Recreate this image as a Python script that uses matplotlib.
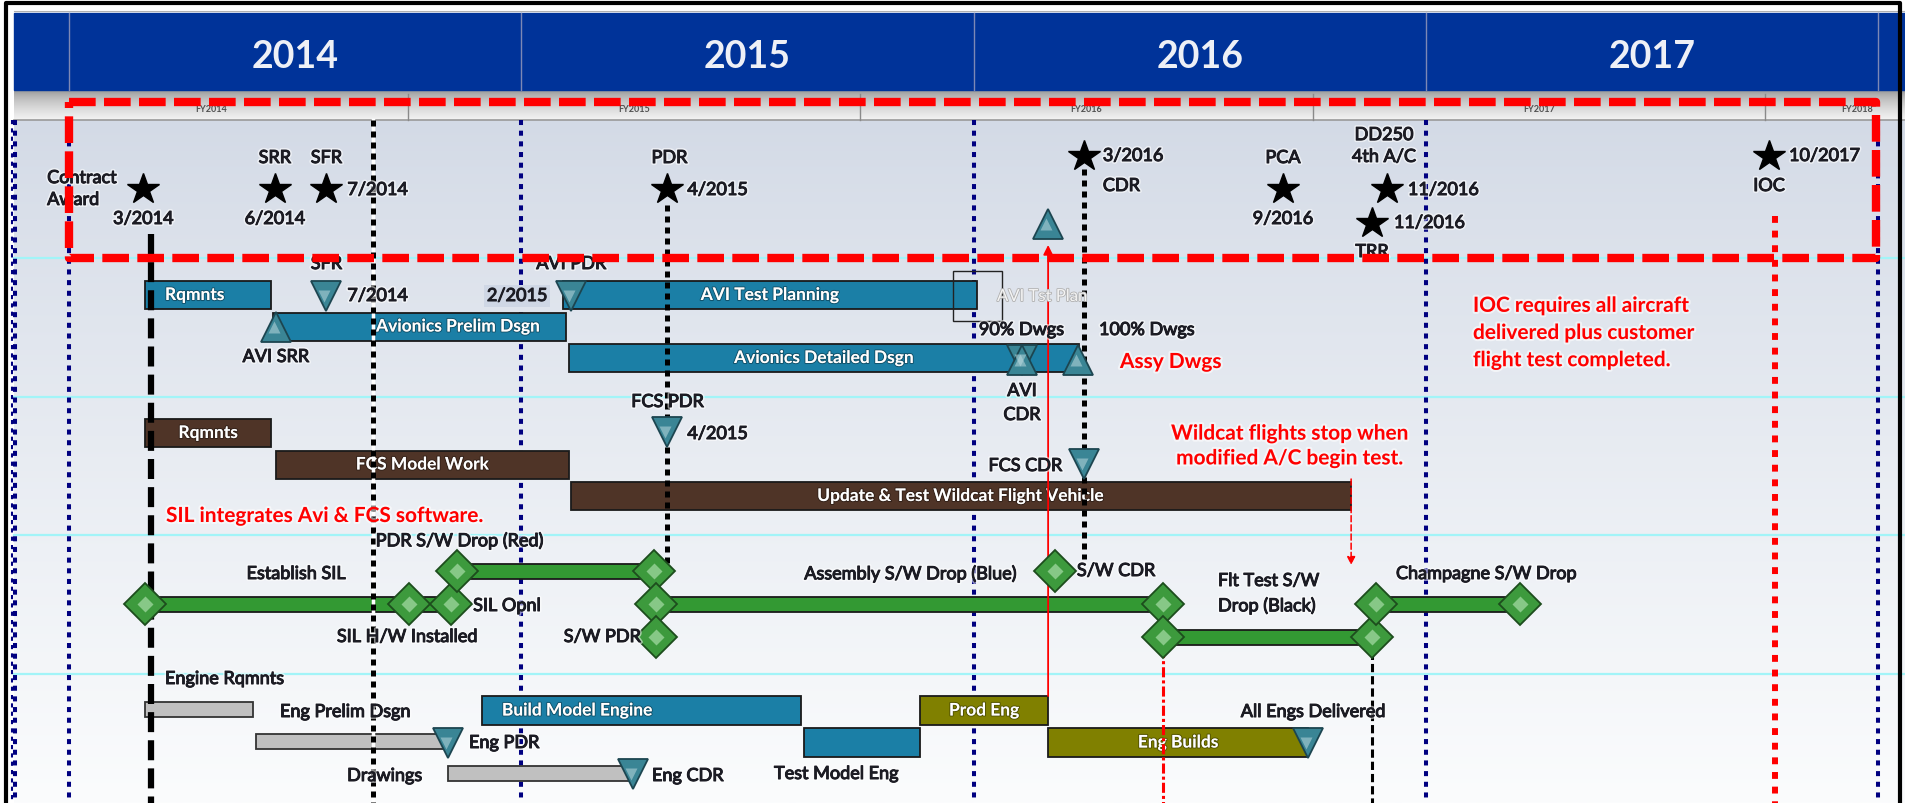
import matplotlib
matplotlib.use("Agg")
import matplotlib.pyplot as plt
import numpy as np
from matplotlib import patheffects as pe
from matplotlib.patches import Rectangle
from matplotlib.colors import to_rgb

plt.rcParams['font.family'] = ['Lato', 'DejaVu Sans']

# ---------------- data (dates as decimal years) ----------------
header_years = [2014, 2015, 2016, 2017]
fy_labels = ["FY2014", "FY2015", "FY2016", "FY2017", "FY2018"]
fy_starts = [2013.75, 2014.75, 2015.75, 2016.75, 2017.75]

star_names = ["Contract\nAward", "SRR", "SFR", "PDR", "CDR", "PCA", "DD250\n4th A/C", "TRR", "IOC"]
star_dates = [2014.164, 2014.455, 2014.569, 2015.323, 2016.244, 2016.684, 2016.914, 2016.881, 2017.759]
star_texts = ["3/2014", "6/2014", "7/2014", "4/2015", "3/2016", "9/2016", "11/2016", "11/2016", "10/2017"]

avi_tasks = ["Rqmnts", "Avionics Prelim Dsgn", "AVI Test Planning", "Avionics Detailed Dsgn"]
avi_start = [2014.168, 2014.451, 2015.092, 2015.106]
avi_end = [2014.447, 2015.099, 2016.008, 2016.233]

fcs_tasks = ["Rqmnts", "FCS Model Work", "Update & Test Wildcat Flight Vehicle"]
fcs_start = [2014.168, 2014.457, 2015.110]
fcs_end = [2014.447, 2015.106, 2016.835]

sw_tasks = ["Establish SIL", "PDR S/W Drop (Red)", "Assembly S/W Drop (Blue)",
            "Flt Test S/W Drop (Black)", "Champagne S/W Drop"]
sw_start = [2014.168, 2014.858, 2015.299, 2016.419, 2016.890]
sw_end = [2014.845, 2015.294, 2016.420, 2016.881, 2017.208]
sw_points = ["SIL H/W Installed", "S/W PDR", "S/W CDR"]
sw_point_dates = [2014.752, 2015.299, 2016.180]

eng_tasks = ["Engine Rqmnts", "Eng Prelim Dsgn", "Drawings", "Build Model Engine",
             "Test Model Eng", "Prod Eng", "Eng Builds"]
eng_start = [2014.168, 2014.414, 2014.838, 2014.913, 2015.625, 2015.882, 2016.165]
eng_end = [2014.407, 2014.838, 2015.247, 2015.619, 2015.882, 2016.165, 2016.740]

tri_names = ["SFR", "AVI SRR", "AVI PDR", "AVI CDR", "AVI CDR", "100% Dwgs", "FCS PDR",
             "FCS CDR", "1st Eng", "Eng PDR", "Eng CDR", "All Engs Delivered"]
tri_dates = [2014.569, 2014.457, 2015.110, 2016.107, 2016.107, 2016.231, 2015.323,
             2016.244, 2016.165, 2014.838, 2015.247, 2016.740]
tri_dirs = ["v", "^", "v", "v", "^", "^", "v", "v", "^", "v", "v", "v"]

ref_contract = 2014.181
ref_today = 2014.673
ref_pdr = 2015.323
ref_cdr = 2016.244
ref_first_eng = 2016.165
ref_wildcat_stop = 2016.835
ref_flt_test = 2016.419
ref_trr = 2016.881
ref_ioc = 2017.772

# ---------------- layout (pixel rows, colours) ----------------
PX0, PPY = 69.0, 452.25
W, H = 1905, 804


def X(px):
    return 2014 + (px - PX0) / PPY


def DX(dpx):
    return dpx / PPY


TEAL, BROWN, GREEN, OLIVE, GRAY = "#1b7fa6", "#4f3427", "#339933", "#808000", "#c0c0c0"
NAVY, RED = "#000080", "#ff0000"
TXT = "#1c1c24"

fig = plt.figure(figsize=(W / 100, H / 100), dpi=100)
fig.patch.set_facecolor("white")
ax = fig.add_axes([0, 0, 1, 1])
ax.axis("off")

# backgrounds
def vgrad(c_top, c_bot, n=256, power=1.0):
    t = np.linspace(0, 1, n) ** power
    a, b = np.array(to_rgb(c_top)), np.array(to_rgb(c_bot))
    return (a[None, :] * (1 - t[:, None]) + b[None, :] * t[:, None])[:, None, :]

ax.imshow(vgrad("#d3dae6", "#fbfcfd", power=0.9), extent=(X(14), X(W), H, 121),
          origin="upper", aspect="auto", zorder=0, interpolation="bilinear")
ax.imshow(vgrad("#8e8e8e", "#f4f4f4", power=0.6), extent=(X(14), X(W), 121, 91),
          origin="upper", aspect="auto", zorder=0.5, interpolation="bilinear")
ax.add_patch(Rectangle((X(14), 14), X(W) - X(14), 77, color="#003399", zorder=1))
ax.plot([X(14), X(W)], [121, 121], color="#9a9a9a", lw=1.2, zorder=1)
ax.plot([X(14), X(W)], [12, 12], color="#b0b0b0", lw=0.8, zorder=1)

# header year blocks
for yb in header_years + [2018]:
    ax.plot([yb, yb], [14, 91], color="#7d88b5", lw=1.0, zorder=1.2)
for yr in header_years:
    ax.text(yr + 0.5, 57, str(yr), ha="center", va="center", fontsize=27, weight="bold",
            color="#eef0f6", zorder=2)
# fiscal-year band
for i, (lab_, fs) in enumerate(zip(fy_labels, fy_starts)):
    left = max(fs, X(14))
    right = min(fs + 1, X(W))
    if i > 0:
        ax.plot([fs, fs], [95, 121], color="#8a8a8a", lw=1.0, zorder=1.2)
    cx = (left + right) / 2 if i < len(fy_labels) - 1 else fs + DX(92)
    ax.text(cx, 109, lab_, ha="center", va="center", fontsize=6.5, weight="bold",
            color="#505050", zorder=2)

# horizontal swim-lane separators
for yy in [259, 398, 536, 675]:
    ax.plot([X(14), X(W)], [yy, yy], color="#a2f4f8", lw=1.6, zorder=1)

# navy dotted year lines
for xv in [X(15), 2014, 2015, 2016, 2017, 2018]:
    ax.plot([xv, xv], [121, H], color=NAVY, lw=2.9, dashes=(1.25, 1.4), zorder=1.5)
ax.plot([X(12), X(12)], [121, H], color=NAVY, lw=1.5, dashes=(2, 2), zorder=1.5)

# ---------------- bars ----------------
def bars(starts, ends, ys, h, colors, ec="#1a1a1a", lw=1.3, z=3):
    for s, e, y, c in zip(starts, ends, ys, colors):
        ax.barh(y, e - s, left=s, height=h, color=c, edgecolor=ec, linewidth=lw, zorder=z)

avi_rows = [296, 327.5, 296, 359]
bars(avi_start, avi_end, avi_rows, 28, [TEAL] * 4)
fcs_rows = [434, 465.5, 497]
bars(fcs_start, fcs_end, fcs_rows, 28, [BROWN] * 3)
sw_rows = [605, 572, 605, 638, 605]
bars(sw_start, sw_end, sw_rows, 15, [GREEN] * 5)
eng_rows = [710.5, 742, 774.5, 711.5, 743.5, 711.5, 743.5]
eng_h = [15, 15, 15, 29, 29, 29, 29]
eng_cols = [GRAY, GRAY, GRAY, TEAL, TEAL, OLIVE, OLIVE]
for s, e, y, h, c in zip(eng_start, eng_end, eng_rows, eng_h, eng_cols):
    ax.barh(y, e - s, left=s, height=h, color=c,
            edgecolor="#333333" if c == GRAY else "#1a1a1a", linewidth=1.3, zorder=3)

# texts inside bars
def btxt(x, y, s, ha="center", size=12.5):
    ax.text(x, y, s, ha=ha, va="center", fontsize=size, weight="bold", color="white",
            zorder=5, path_effects=[pe.withStroke(linewidth=1.5, foreground="#00000055")])

btxt(avi_start[0] + DX(20), avi_rows[0], avi_tasks[0], ha="left")
btxt(X(458), avi_rows[1], avi_tasks[1])
btxt((avi_start[2] + avi_end[2]) / 2, avi_rows[2], avi_tasks[2])
btxt((avi_start[3] + avi_end[3]) / 2, avi_rows[3], avi_tasks[3])
for i in range(3):
    btxt((fcs_start[i] + fcs_end[i]) / 2, fcs_rows[i], fcs_tasks[i])
btxt(eng_start[3] + DX(20), eng_rows[3], eng_tasks[3], ha="left")
btxt((eng_start[5] + eng_end[5]) / 2, eng_rows[5], eng_tasks[5])
btxt((eng_start[6] + eng_end[6]) / 2, eng_rows[6], eng_tasks[6])

# ---------------- reference lines ----------------
ax.plot([ref_contract] * 2, [235, H], color="black", lw=4.5, dashes=(3.2, 1.3), zorder=6)
ax.plot([ref_today] * 2, [121, H], color="white", lw=2.5, zorder=5.5)
ax.plot([ref_today] * 2, [121, H], color="black", lw=3.6, dashes=(1.2, 1.0), zorder=6)
ax.plot([ref_pdr] * 2, [206, 570], color="black", lw=3.6, dashes=(1.2, 1.0), zorder=6)
ax.plot([ref_cdr] * 2, [170, 560], color="black", lw=3.6, dashes=(1.2, 1.0), zorder=6)
ax.plot([ref_trr] * 2, [640, H], color="black", lw=2.2, dashes=(2.7, 1.3), zorder=6)
ax.plot([ref_flt_test] * 2, [610, H], color=RED, lw=2.2, dashes=(3.3, 1, 1, 1), zorder=6)
ax.plot([ref_ioc] * 2, [217, H], color=RED, lw=4.3, dashes=(1.15, 1.3), zorder=6)
ax.annotate("", xy=(ref_first_eng, 246), xytext=(ref_first_eng, 697),
            arrowprops=dict(arrowstyle="-|>", color=RED, lw=1.3, mutation_scale=14,
                            shrinkA=0, shrinkB=0), zorder=6)
ax.annotate("", xy=(ref_wildcat_stop, 566), xytext=(ref_wildcat_stop, 480),
            arrowprops=dict(arrowstyle="-|>", color=RED, lw=1.1, ls=(0, (4, 2)),
                            mutation_scale=12, shrinkA=0, shrinkB=0), zorder=6)

# ---------------- markers ----------------
def diamond(x, y):
    ax.plot(x, y, marker="D", ms=21.0, mfc="#3d9a3d", mec="#1d4d1d", mew=1.3, zorder=7)
    ax.plot(x, y, marker="D", ms=8.5, mfc="#a8dca8", mec="none", alpha=0.7, zorder=7.1)

for s, e, y in zip(sw_start, sw_end, sw_rows):
    diamond(s, y)
    diamond(e, y)
for d, y in zip(sw_point_dates, [605, 638, 572]):
    diamond(d, y)

tri_rows = [297, 328, 297, 361, 361, 361, 433, 465, 225, 744, 775, 744]
for d, y, m in zip(tri_dates, tri_rows, tri_dirs):
    ax.plot(d, y, marker=m, ms=21.6, mfc="#3a8595", mec="#1c4550", mew=1.3, zorder=7)
    ax.plot(d + DX(-2), y, marker=m, ms=9, mfc="#b8d8de", mec="none", alpha=0.55, zorder=7.1)

star_rows = [190, 190, 190, 190, 157, 190, 190, 224, 157]
for d, y in zip(star_dates, star_rows):
    ax.plot(d, y, marker="*", ms=23.5, color="black", mec="black", zorder=8)

# ---------------- labels ----------------
def lab(x, y, s, ha="left", size=13, color=TXT, weight="normal", ls=1.2, z=9, emb=0.75):
    effects = [pe.withStroke(linewidth=3, foreground="white", alpha=0.55)]
    if emb:
        effects.append(pe.withStroke(linewidth=emb, foreground=color))
    ax.text(x, y, s, ha=ha, va="center", fontsize=size, color=color, weight=weight,
            linespacing=ls, zorder=z, path_effects=effects)

# (name dx, name y, name ha, date dx, date y, date ha) in pixels
star_layout = [(-96, 190, "left", 0, 220, "center"),
               (0, 159, "center", 0, 220, "center"),
               (0, 159, "center", 21, 191, "left"),
               (2, 159, "center", 20, 191, "left"),
               (19, 187, "left", 19, 157, "left"),
               (0, 159, "center", 0, 220, "center"),
               (-3, 147, "center", 21, 191, "left"),
               (0, 253, "center", 22, 224, "left"),
               (0, 187, "center", 20, 157, "left")]
for d, nm, tx, (ndx, ny, nha, ddx, dy, dha) in zip(star_dates, star_names, star_texts, star_layout):
    lab(d + DX(ndx), ny, nm, ha=nha, ls=1.45)
    lab(d + DX(ddx), dy, tx, ha=dha)

# avionics lane
lab(tri_dates[0], 265, "SFR", ha="center", z=4)
lab(tri_dates[0] + DX(21), 297, "7/2014")
ax.text(tri_dates[2] - DX(54), 297, "2/2015", ha="center", va="center", fontsize=13, color=TXT,
        zorder=9, bbox=dict(boxstyle="square,pad=0.15", fc="#cfd7e5", ec="none"),
        path_effects=[pe.withStroke(linewidth=0.75, foreground=TXT)])
lab(tri_dates[2], 265, "AVI PDR", ha="center", z=4)
lab(tri_dates[1], 358, "AVI SRR", ha="center")
lab(tri_dates[3] - DX(43), 331, "90% Dwgs")
lab(tri_dates[5] + DX(21), 331, "100% Dwgs")
lab(tri_dates[3], 392, "AVI", ha="center")
lab(tri_dates[3], 416, "CDR", ha="center")
ax.add_patch(Rectangle((X(953), 272), X(1002) - X(953), 50, fill=False, ec="#222222", lw=1.0, zorder=8))
ax.text(X(997), 297, "AVI Tst Plan", ha="left", va="center", fontsize=12, color="#f4f4f4", zorder=8,
        path_effects=[pe.withStroke(linewidth=1.2, foreground="#b0b0b0")])
lab(tri_dates[5] + DX(42), 363, "Assy Dwgs", color=RED, size=15, weight="bold", emb=0)
lab(X(1473), 334, "IOC requires all aircraft\ndelivered plus customer\nflight test completed.",
    color=RED, size=15, ls=1.45, weight="bold", emb=0)

# fcs lane
lab(tri_dates[6], 403, "FCS PDR", ha="center")
lab(tri_dates[6] + DX(20), 435, "4/2015")
lab(tri_dates[7] - DX(22), 467, "FCS CDR", ha="right")
lab(X(1290), 447, "Wildcat flights stop when\nmodified A/C begin test.", ha="center",
    color=RED, size=15, ls=1.3, weight="bold", emb=0)
lab(X(166), 517, "SIL integrates Avi & FCS software.", color=RED, size=15, weight="bold", emb=0)

# software lane
lab((sw_start[0] + sw_end[0]) / 2 - DX(2), 575, sw_tasks[0], ha="center")
lab(sw_start[1] + DX(2), 542, sw_tasks[1], ha="center")
lab(sw_point_dates[0] - DX(2), 638, sw_points[0], ha="center")
lab(sw_end[0] + DX(22), 607, "SIL Opnl")
lab((sw_start[2] + sw_end[2]) / 2, 575, sw_tasks[2], ha="center")
lab(sw_point_dates[1] - DX(16), 638, sw_points[1], ha="right")
lab(sw_point_dates[2] + DX(22), 572, sw_points[2])
lab(sw_start[3] + DX(55), 582, "Flt Test S/W")
lab(sw_start[3] + DX(55), 607, "Drop (Black)")
lab(sw_start[4] + DX(20), 575, sw_tasks[4])

# engine lane
lab(eng_start[0] + DX(20), 680, eng_tasks[0])
lab(eng_end[1] - DX(168), 713, eng_tasks[1])
lab(tri_dates[9] + DX(21), 744, "Eng PDR")
lab(eng_start[2] - DX(26), 777, eng_tasks[2], ha="right")
lab(tri_dates[10] + DX(19), 777, "Eng CDR")
lab((eng_start[4] + eng_end[4]) / 2 + DX(-26), 775, eng_tasks[4], ha="center")
lab(tri_dates[11] + DX(77), 713, "All Engs Delivered", ha="right")

# red dashed highlight box around top milestones
bx0, bx1, by0, by1 = X(69), X(1876), 103, 259
ax.plot([bx0, bx1, bx1, bx0, bx0], [by0, by0, by1, by1, by0], color=RED, lw=6,
        dashes=(3.2, 1.0), solid_joinstyle="round", zorder=10)

# outer frame
ax.plot([X(6), X(6), X(1900), X(1900)], [H + 10, 3.5, 3.5, H + 10], color="black", lw=3,
        zorder=11, clip_on=False)

ax.set_xlim(X(0), X(W))
ax.set_ylim(H, 0)
fig.savefig("out.png", dpi=100, facecolor="white")
